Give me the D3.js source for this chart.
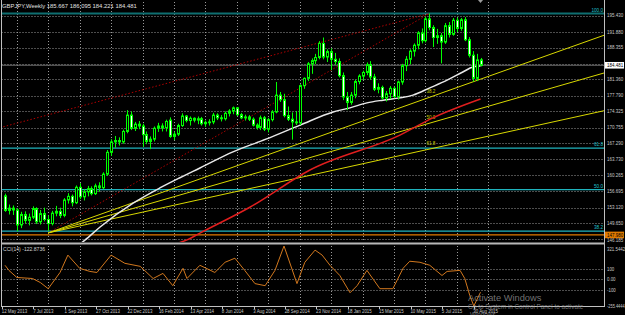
<!DOCTYPE html>
<html><head><meta charset="utf-8">
<script src="https://cdn.jsdelivr.net/npm/d3@7"></script>
<style>html,body{margin:0;padding:0;background:#000;overflow:hidden}svg{display:block}</style>
</head><body><svg id="c" width="625" height="315"></svg>
<script>
// ---------- DATA ----------
const symbolTitle = "GBPJPY,Weekly  185.667 186.095 184.221 184.481";
const cciTitle = "CCI(14) -122.8736";
const openP = [155.7,152.5,153.0,152.6,149.3,151.6,150.3,151.0,152.9,150.0,151.8,150.5,149.6,151.9,152.3,151.4,154.8,155.6,154.2,157.6,
155.5,156.6,157.3,156.2,157.9,157.5,160.5,165.3,167.6,167.9,167.6,169.9,173.5,170.6,171.5,171.1,169.2,167.7,168.2,170.6,
171.1,170.7,172.4,168.8,169.3,171.2,173.3,172.3,172.8,172.4,172.7,171.6,171.9,172.0,173.5,172.9,172.7,173.9,174.4,175.1,
173.6,172.9,173.1,172.6,171.3,170.8,172.9,170.4,172.5,174.2,177.9,176.9,173.4,172.6,172.0,171.8,180.0,181.6,184.8,185.5,
186.2,189.3,186.3,187.5,185.8,185.3,182.2,177.5,176.3,177.9,180.9,182.1,182.9,184.6,181.9,179.2,179.6,177.3,178.2,179.4,
177.6,180.8,184.4,185.8,187.6,188.9,191.6,189.9,194.7,192.8,190.6,191.0,189.6,193.2,191.3,194.4,192.6,194.5,190.1,186.7,
181.6,185.667];
const highP = [156.2,153.8,153.6,153.0,152.2,152.3,151.8,153.4,153.2,152.6,153.1,151.4,152.4,153.5,153.1,155.2,156.3,156.0,158.0,158.5,
157.2,157.9,157.8,158.4,158.7,160.9,165.8,168.2,168.9,168.6,170.3,174.6,174.3,172.0,172.2,171.6,169.9,168.8,171.0,171.8,
171.7,172.5,173.0,169.9,171.6,173.9,173.5,173.2,173.0,173.2,173.1,172.3,172.6,174.0,173.9,173.5,174.3,174.8,175.4,175.3,
174.0,173.6,173.5,173.0,171.7,173.4,173.3,172.9,174.6,180.8,178.6,178.2,175.4,174.1,174.4,180.3,181.8,185.2,186.0,187.0,
189.8,190.6,188.0,188.2,187.2,186.0,182.9,178.6,178.6,181.3,182.5,183.3,185.1,185.4,182.6,180.5,180.0,178.8,179.9,179.8,
181.1,184.8,186.5,188.0,189.3,192.0,192.6,195.2,195.88,193.3,192.5,191.6,193.8,194.0,194.9,195.0,194.9,195.1,190.7,187.6,
187.0,186.095];
const lowP = [152.2,151.6,151.5,147.9,148.6,149.6,149.2,150.6,149.5,149.4,150.1,147.98,149.2,151.2,150.8,151.0,154.0,153.4,153.9,155.0,
154.7,155.6,155.8,155.9,156.6,157.2,160.1,164.5,166.3,166.8,167.2,169.5,170.2,170.0,170.4,166.5,167.1,166.0,167.7,169.8,
169.9,169.9,168.5,168.0,168.9,170.9,171.9,171.2,171.9,171.5,171.2,170.9,171.2,171.5,172.4,172.1,172.3,173.2,173.7,173.3,
172.6,172.3,172.2,171.0,170.3,170.2,170.0,169.7,172.1,173.9,176.4,173.0,172.2,168.1,171.3,171.3,179.3,181.0,182.6,184.7,
185.8,185.8,185.2,183.4,184.6,181.8,176.8,174.6,175.8,177.2,180.3,181.2,182.3,181.3,178.8,178.3,176.9,176.5,177.0,177.2,
176.9,180.2,183.2,184.7,186.4,188.0,189.3,189.5,192.2,188.5,189.2,184.9,189.2,190.6,191.0,191.8,192.1,189.8,186.2,180.9,
181.0,184.221];
const closeP = [152.5,153.0,152.6,149.3,151.6,150.3,151.0,152.9,150.0,151.8,150.5,149.6,151.9,152.3,151.4,154.8,155.6,154.2,157.6,155.5,
156.6,157.3,156.2,157.9,157.5,160.5,165.3,167.6,167.9,167.6,169.9,173.5,170.6,171.5,171.1,169.2,167.7,168.2,170.6,171.1,
170.7,172.1,168.8,169.3,171.2,173.3,172.3,172.8,172.4,172.7,171.6,171.9,172.0,173.5,172.9,172.7,173.9,174.4,175.1,173.6,
172.9,173.1,172.6,171.3,170.8,172.9,170.4,172.5,174.2,177.9,176.9,173.4,172.6,172.0,171.8,180.0,181.6,184.8,185.5,186.2,
189.3,186.3,187.5,185.8,185.3,182.2,177.5,176.3,177.9,180.9,182.1,182.9,184.6,181.9,179.2,179.6,177.3,178.2,179.4,177.6,
180.8,184.4,185.8,187.6,188.9,191.6,189.9,194.7,192.8,190.6,191.0,189.6,193.2,191.3,194.4,192.6,194.5,190.1,186.7,181.6,
185.667,184.481];

const dateLabels = ["12 May 2013","7 Jul 2013","1 Sep 2013","27 Oct 2013","22 Dec 2013","16 Feb 2014","13 Apr 2014","8 Jun 2014",
"3 Aug 2014","28 Sep 2014","23 Nov 2014","18 Jan 2015","15 Mar 2015","10 May 2015","5 Jul 2015","30 Aug 2015"];
const priceTicks = [195.430,191.880,188.355,184.860,181.360,177.790,174.325,170.755,167.290,163.730,160.265,156.695,153.120,149.650,146.185];
const hiddenTick = 184.860;

// moving averages: [bar index, price]
const whiteMA = [[19.1,145.1],[20.4,146.0],[24.2,148.85],[32.6,154.1],[39.4,157.45],[44.5,159.7],[49.6,161.85],[58.0,165.4],
[66.4,168.2],[75.1,171.3],[83.5,174.2],[87.8,175.1],[92.1,176.2],[96.2,176.8],[100.5,177.3],[103.8,177.9],[108.1,179.5],
[112.5,181.2],[116.5,183.0],[119.1,184.1],[121,184.3]];
const redMA = [[43.3,145.1],[46.3,146.0],[49.6,147.5],[62.3,153.2],[77.6,161.4],[100.5,169.1],[108.9,172.9],[121,177.05]];

// CCI(14): [bar index, value]
const cciPts = [[0,136],[1,87],[3,19],[7,9],[9,-30],[11,-89],[14,67],[16,234],[19,107],[21.6,77],[23.4,67],[27,234],[30.5,155],
[34.4,126],[37.7,9],[40.2,58],[42.7,-60],[45.3,107],[46.3,9],[49.6,136],[53.4,67],[56,165],[58.5,204],[61,87],[63.6,-40],
[66.2,-60],[68.7,87],[71,321.5442],[74.3,-40],[76.3,165],[78.9,282],[80.7,234],[82.7,136],[85.2,38],[87.8,-128],[89.6,-60],
[92.1,87],[95.4,-89],[98.7,-89],[101.3,107],[103,175],[105.6,165],[108.1,136],[111.2,38],[112.5,77],[115.8,87],[117,9],
[118.3,-157],[119.3,-255.4444],[121,-122.8736]];
const cciTicks = [321.5442,100,0,-100,-255.4444];
const cciLevels = [100,0,-100];

// drawing objects
const fibHigh = 195.88, fibLow = 118.3;
const fibLevels = [1.0,0.618,0.5,0.382];
const fibLabels = ["100.0","61.8","50.0","38.2"];
const fanOrigin = [11,147.55], fanEnd = [108,195.88];
const fanLevels = [0.382,0.5,0.618];
const fanLabels = ["38.2","50.0","61.8"];
const trend1 = [[-1.3,170.73],[108,195.88]];
const orangeLevel = 147.1, orangeLabel = "147.980";
const lastPrice = 184.481, lastLabel = "184.481";
const watermark = ["Activate Windows","Go to System in Control Panel to activate","Windows."];

// ---------- DRAW ----------
const svg = d3.select("#c");
const W=625,H=315;
const L=1.5,R=604, mTop=2, mBot=242, cTop=246, cBot=306;
const x = d3.scaleLinear().domain([0,121]).range([5,480.5]);
const y = d3.scaleLinear().domain([167.29,191.88]).range([143.3,31.7]);
const yc = d3.scaleLinear().domain([-255.4444,321.5442]).range([cBot,cTop]);
const font = "'Liberation Sans', Arial, sans-serif";
const axisCol = "#c8c8c8";
// small text, horizontally condensed by a transform (like the terminal's narrow bitmap font)
function stext(parent, tx, ty, str, size, fill, f, anchor){
  return parent.append("text").attr("transform",`translate(${tx},${ty}) scale(${f},1)`)
    .attr("font-family",font).attr("font-size",size).attr("fill",fill)
    .attr("text-anchor",anchor||"start").text(str);
}

svg.append("rect").attr("width",W).attr("height",H).attr("fill","#000");
const defs = svg.append("defs");
defs.append("clipPath").attr("id","cm").append("rect").attr("x",L).attr("y",mTop).attr("width",R-L).attr("height",mBot-mTop);
defs.append("clipPath").attr("id","cc").append("rect").attr("x",L).attr("y",cTop).attr("width",R-L).attr("height",cBot-cTop);

// grids
const grid = svg.append("g").attr("stroke","#9a9a9a").attr("stroke-width",1).attr("stroke-dasharray","1,2");
priceTicks.forEach(p=>{
  const yy=Math.round(y(p))+0.5;
  grid.append("line").attr("x1",L).attr("x2",R).attr("y1",yy).attr("y2",yy);
});
const vIdx = d3.range(0,16).map(k=>8*k+3);
vIdx.forEach(i=>{
  const xx=Math.round(x(i))+0.5;
  grid.append("line").attr("x1",xx).attr("x2",xx).attr("y1",mTop).attr("y2",mBot);
  grid.append("line").attr("x1",xx).attr("x2",xx).attr("y1",cTop).attr("y2",cBot);
});
cciLevels.forEach(v=>{
  const yy=Math.round(yc(v))+0.5;
  grid.append("line").attr("x1",L).attr("x2",R).attr("y1",yy).attr("y2",yy);
});

const main = svg.append("g").attr("clip-path","url(#cm)");

// last price line
main.append("line").attr("x1",L).attr("x2",R).attr("y1",y(lastPrice)).attr("y2",y(lastPrice)).attr("stroke","#6a6a6a").attr("stroke-width",1);

// fib levels
fibLevels.forEach((r,k)=>{
  const p = fibLow + r*(fibHigh-fibLow);
  const yy = y(p);
  main.append("line").attr("x1",L).attr("x2",R).attr("y1",yy).attr("y2",yy)
    .attr("stroke", r===1.0 ? "#0e6e70" : "#1fb3bd").attr("stroke-width", r===1.0?2:1.2);
  stext(main, 603, yy-2, fibLabels[k], 5.8, "#1fc0cc", 0.8, "end");
});
// orange horizontal
main.append("line").attr("x1",L).attr("x2",R).attr("y1",y(orangeLevel)).attr("y2",y(orangeLevel)).attr("stroke","#e07a00").attr("stroke-width",1.3);

// red dotted lines
const ln = d3.line().x(d=>x(d[0])).y(d=>y(d[1]));
main.append("path").attr("d",ln(trend1)).attr("stroke","#b00000").attr("stroke-width",1).attr("stroke-dasharray","1.5,2").attr("fill","none");
main.append("path").attr("d",ln([fanOrigin,fanEnd])).attr("stroke","#b00000").attr("stroke-width",1).attr("stroke-dasharray","1.5,2").attr("fill","none");

// fan lines
const xMax = x.invert(R+2);
fanLevels.forEach((r,k)=>{
  const pEnd = fanEnd[1] - r*(fanEnd[1]-fanOrigin[1]);
  const slope = (pEnd-fanOrigin[1])/(fanEnd[0]-fanOrigin[0]);
  const pts = [fanOrigin,[xMax, fanOrigin[1]+slope*(xMax-fanOrigin[0])]];
  main.append("path").attr("d",ln(pts)).attr("stroke","#d8d800").attr("stroke-width",1).attr("fill","none");
  stext(main, x(fanEnd[0])-3, y(pEnd)-4, fanLabels[k], 5.8, "#c8c800", 0.8);
});

// moving averages
const lnC = d3.line().x(d=>x(d[0])).y(d=>y(d[1])).curve(d3.curveMonotoneX);
main.append("path").attr("d",lnC(redMA)).attr("stroke","#e01e1e").attr("stroke-width",1.5).attr("fill","none");
main.append("path").attr("d",lnC(whiteMA)).attr("stroke","#e8e8e8").attr("stroke-width",1.5).attr("fill","none");

// candles
const cg = main.append("g");
closeP.forEach((c,i)=>{
  const o=openP[i], h=highP[i], l=lowP[i];
  const xx = Math.round(x(i))+0.5;
  cg.append("line").attr("x1",xx).attr("x2",xx).attr("y1",y(h)).attr("y2",y(l)).attr("stroke","#00ff00").attr("stroke-width",1);
  const top=Math.min(y(o),y(c)), bh=Math.max(Math.abs(y(o)-y(c)),0.8);
  cg.append("rect").attr("x",xx-1).attr("y",top).attr("width",2).attr("height",bh)
    .attr("fill", c>=o ? "#000" : "#fff").attr("stroke","#00ff00").attr("stroke-width",1);
});

// title
stext(svg, 2, 8, symbolTitle, 6.2, "#e0e0e0", 0.95);

// chart shift marker
svg.append("path").attr("d",`M${x(121)-2.5},0 L${x(121)+2.5},0 L${x(121)},3 Z`).attr("fill","#9a9a9a");

// borders
svg.append("line").attr("x1",1.5).attr("x2",1.5).attr("y1",0).attr("y2",cBot).attr("stroke","#c0c0c0");
svg.append("line").attr("x1",R+0.5).attr("x2",R+0.5).attr("y1",0).attr("y2",cBot+1).attr("stroke","#c0c0c0");
svg.append("line").attr("x1",1).attr("x2",R+1).attr("y1",243.5).attr("y2",243.5).attr("stroke","#b8b8b8").attr("stroke-width",2);
svg.append("line").attr("x1",1).attr("x2",R+1).attr("y1",cBot+0.5).attr("y2",cBot+0.5).attr("stroke","#c0c0c0");

// right axis labels
const ra = svg.append("g");
priceTicks.filter(p=>p!==hiddenTick).forEach((p,k,arr)=>{
  const extra = (k===arr.length-1) ? 1.2 : 0;
  stext(ra, 607, y(p)+1.8+extra, p.toFixed(3), 5.6, axisCol, 0.8);
});
// price boxes
const pb = svg.append("g");
pb.append("rect").attr("x",R+1).attr("y",y(lastPrice)-3.3).attr("width",19).attr("height",6.6).attr("fill","#fff");
stext(pb, 607, y(lastPrice)+2, lastLabel, 5.6, "#000", 0.8);
pb.append("rect").attr("x",R+1).attr("y",y(orangeLevel)-3.3).attr("width",19).attr("height",6.6).attr("fill","#e07a00");
stext(pb, 607, y(orangeLevel)+2, orangeLabel, 5.6, "#000", 0.8);

// CCI
const cc = svg.append("g").attr("clip-path","url(#cc)");
const lnCci = d3.line().x(d=>x(d[0])).y(d=>yc(d[1]));
cc.append("path").attr("d",lnCci(cciPts)).attr("stroke","#d2781e").attr("stroke-width",1).attr("fill","none");
stext(svg, 3, 251, cciTitle, 6, "#d0d0d0", 0.85);
cciTicks.forEach((v,k)=>{
  let yy = yc(v)+1.8;
  if (k===0) yy = cTop+5;
  const lab = (v===0)?"0.00":(Number.isInteger(v)?String(v):v.toFixed(4));
  stext(ra, 607, yy, lab, 5.6, axisCol, k===cciTicks.length-1 ? 0.7 : 0.78);
});

// date labels
const da = svg.append("g");
dateLabels.forEach((t,k)=>{
  const xx = x(8*k)-3.3;
  stext(da, xx, 313, t, 5.8, axisCol, 0.76);
  svg.append("line").attr("x1",Math.round(x(8*k))-3+0.5).attr("x2",Math.round(x(8*k))-3+0.5).attr("y1",cBot).attr("y2",cBot+3).attr("stroke",axisCol);
});

// watermark
const wm = svg.append("g").attr("font-family",font).attr("fill","#9a9a9a").attr("fill-opacity",0.75);
wm.append("text").attr("x",468).attr("y",300.5).attr("font-size",9.3).text(watermark[0]);
wm.append("text").attr("x",468).attr("y",309).attr("font-size",6.3).text(watermark[1]);
wm.append("text").attr("x",470).attr("y",316.5).attr("font-size",6.3).text(watermark[2]);
</script>
</body></html>
